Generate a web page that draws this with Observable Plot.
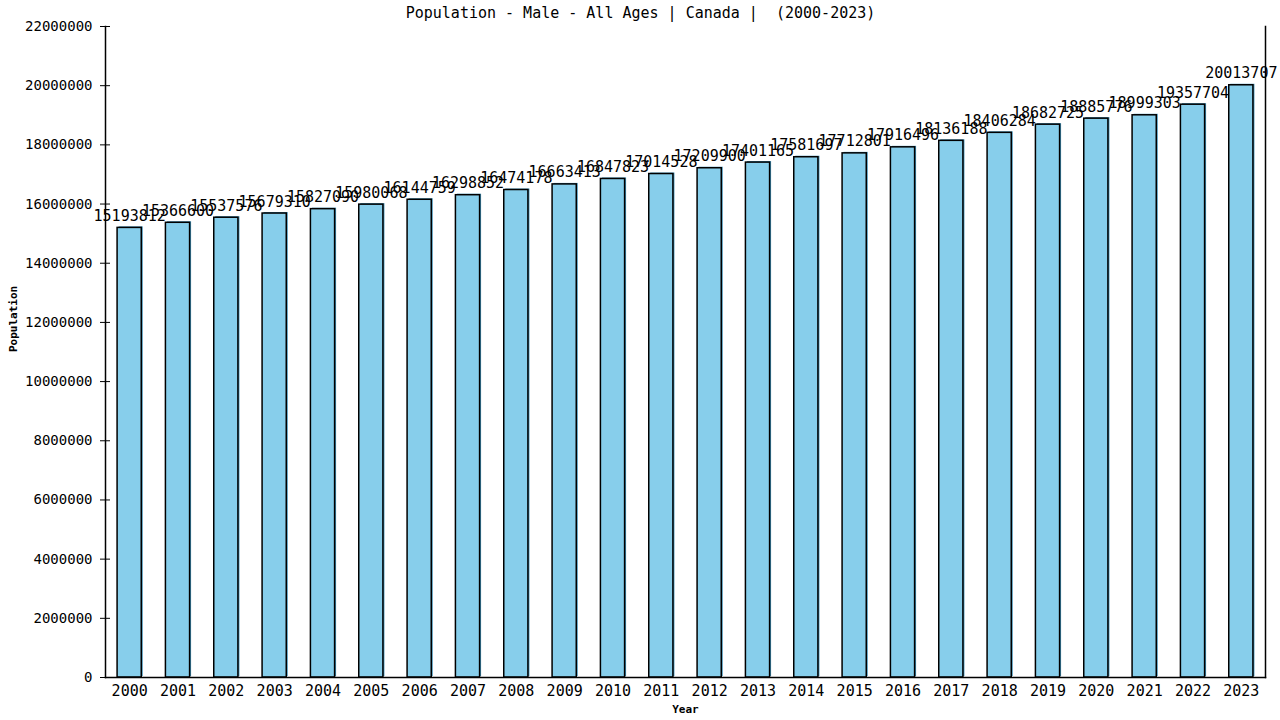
<!DOCTYPE html>
<html>
<head>
<meta charset="utf-8">
<script src="https://cdn.jsdelivr.net/npm/d3@7"></script>
<script src="https://cdn.jsdelivr.net/npm/@observablehq/plot@0.6"></script>
<style>
  html, body { margin: 0; padding: 0; background: #fff; }
</style>
</head>
<body>
<div id="chart"></div>
<script>
const years = ["2000","2001","2002","2003","2004","2005","2006","2007","2008","2009","2010","2011","2012","2013","2014","2015","2016","2017","2018","2019","2020","2021","2022","2023"];
const population = [15193812,15366600,15537576,15679310,15827090,15980068,16144759,16298852,16474178,16663413,16847823,17014528,17209900,17401165,17581697,17712801,17916496,18136188,18406284,18682725,18885776,18999303,19357704,20013707];
const yTicks = [0,2000000,4000000,6000000,8000000,10000000,12000000,14000000,16000000,18000000,20000000,22000000];
const titleText = "Population - Male - All Ages | Canada |  (2000-2023)";

const data = years.map((y, i) => ({year: y, value: population[i]}));
const font = "'DejaVu Sans Mono', monospace";

const chart = Plot.plot({
  width: 1280,
  height: 720,
  marginLeft: 105,
  marginRight: 15,
  marginTop: 26,
  marginBottom: 43,
  style: {fontFamily: font, fontSize: "14px", color: "#000", background: "#fff"},
  x: {domain: years, paddingInner: 0.5, paddingOuter: 0.25, round: false, label: null},
  y: {domain: [0, 22000000], label: null},
  marks: [
    Plot.barY(data, {x: "year", y: "value", fill: "#3f8fb5", dx: 1.5, dy: -1}),
    Plot.barY(data, {x: "year", y: "value", fill: "#87CEEB", stroke: "#000", strokeWidth: 1.5}),
    Plot.text(data, {x: "year", y: "value", text: d => String(d.value), lineAnchor: "bottom", dy: -7, fontSize: 15, fill: "#000"}),
    Plot.axisY({ticks: yTicks, tickSize: 10, dx: 5, tickPadding: 8, tickFormat: d => String(d), label: null, fontSize: 14}),
    Plot.axisX({tickSize: 0, tickPadding: 8, label: null, fontSize: 15}),
    Plot.frame({anchor: "left", strokeWidth: 1.5}),
    Plot.frame({anchor: "bottom", strokeWidth: 1.5}),
    Plot.frame({anchor: "right", strokeWidth: 1.5}),
    Plot.text([titleText], {frameAnchor: "top", dx: -45, dy: -13, lineAnchor: "middle", fontSize: 15, fill: "#000"}),
    Plot.text(["Year"], {frameAnchor: "bottom", dy: 32, lineAnchor: "middle", fontSize: 11, fontWeight: "bold"}),
    Plot.text(["Population"], {frameAnchor: "left", dx: -92, rotate: -90, fontSize: 11, fontWeight: "bold"})
  ]
});
document.getElementById("chart").appendChild(chart);
</script>
</body>
</html>
